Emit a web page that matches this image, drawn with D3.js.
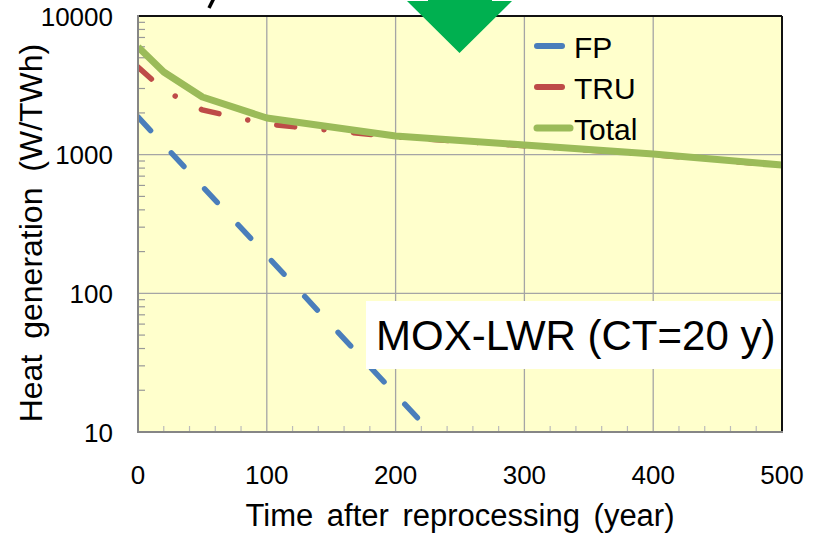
<!DOCTYPE html>
<html>
<head>
<meta charset="utf-8">
<script src="https://cdn.jsdelivr.net/npm/d3@7"></script>
<style>
  body { margin: 0; background: #fff; }
  text { font-family: Arial, "Liberation Sans", sans-serif; fill: #000; }
</style>
</head>
<body>
<svg id="chart" width="819" height="535"></svg>
<script>
// data
const years = [0, 20, 50, 100, 200, 300, 400, 500];
const fpValues = [1870, 1180, 590, 187, 18.7, 1.87, 0.187, 0.0187];
const truValues = [4290, 2920, 2100, 1660, 1345, 1160, 1000, 835];
const totalValues = [5980, 3945, 2606, 1837, 1365, 1175, 1011, 841];
const xTicks = [0, 100, 200, 300, 400, 500];
const yTicks = [10, 100, 1000, 10000];
const seriesNames = ["FP", "TRU", "Total"];
const noteText = "MOX-LWR (CT=20 y)";
const xTitle = "Time after reprocessing (year)";
const yTitle = "Heat generation (W/TWh)";

var margin = {top: 16, right: 37, bottom: 103, left: 138};
var width = 819, height = 535;
const COLORS = {FP: "#4A7EBB", TRU: "#BE4B48", Total: "#9BBB59"};

var svg = d3.select("#chart");

var x = d3.scaleLinear()
    .domain([0, 500])
    .range([margin.left, width - margin.right]);
var y = d3.scaleLog()
    .domain([10, 10000])
    .range([height - margin.bottom, margin.top]);

const x0 = x(0), x1 = x(500), yb = y(10), yt = y(10000);

// tail of a glyph from the title that sits above the picture
svg.append("path")
    .attr("d", "M213.5,-1 L209,8")
    .style("stroke", "#000")
    .style("stroke-width", 3.5);

// plot background
svg.append("rect")
    .attr("x", x0).attr("y", yt)
    .attr("width", x1 - x0).attr("height", yb - yt)
    .style("fill", "#FFFFCC");

// grid
svg.append("g").selectAll("line")
    .data(xTicks.slice(1, -1))
    .enter().append("line")
    .attr("x1", d => x(d)).attr("x2", d => x(d))
    .attr("y1", yt).attr("y2", yb)
    .style("stroke", "#A5A5A5").style("stroke-width", 1.3);
svg.append("g").selectAll("line")
    .data(yTicks.slice(1, -1))
    .enter().append("line")
    .attr("x1", x0).attr("x2", x1)
    .attr("y1", d => y(d)).attr("y2", d => y(d))
    .style("stroke", "#A5A5A5").style("stroke-width", 1.3);

// minor ticks (inside)
var minorY = [];
[10, 100, 1000].forEach(dec => { for (let k = 2; k <= 9; k++) minorY.push(dec * k); });
svg.append("g").selectAll("line")
    .data(minorY)
    .enter().append("line")
    .attr("x1", x0).attr("x2", x0 + 7)
    .attr("y1", d => y(d)).attr("y2", d => y(d))
    .style("stroke", "#999").style("stroke-width", 1.2);
var minorX = d3.range(20, 500, 20).filter(d => d % 100 != 0);
svg.append("g").selectAll("line")
    .data(minorX)
    .enter().append("line")
    .attr("x1", d => x(d)).attr("x2", d => x(d))
    .attr("y1", yb).attr("y2", yb - 6)
    .style("stroke", "#BBB").style("stroke-width", 1.2);

// series
svg.append("defs").append("clipPath").attr("id", "plot-clip")
    .append("rect")
    .attr("x", x0).attr("y", yt)
    .attr("width", x1 - x0).attr("height", yb - yt);

var line = d3.line()
    .x(d => x(d[0]))
    .y(d => y(d[1]));

var plot = svg.append("g").attr("clip-path", "url(#plot-clip)");

plot.append("path")
    .datum(years.map((t, i) => [t, fpValues[i]]))
    .attr("d", line)
    .style("fill", "none")
    .style("stroke", COLORS.FP)
    .style("stroke-width", 5.5)
    .style("stroke-linecap", "round")
    .style("stroke-dasharray", "18.5,30.5");

plot.append("path")
    .datum(years.map((t, i) => [t, truValues[i]]))
    .attr("d", line)
    .style("fill", "none")
    .style("stroke", COLORS.TRU)
    .style("stroke-width", 5.5)
    .style("stroke-linecap", "round")
    .style("stroke-dasharray", "18,29.5,0.01,29.5");

plot.append("path")
    .datum(years.map((t, i) => [t, totalValues[i]]))
    .attr("d", line)
    .style("fill", "none")
    .style("stroke", COLORS.Total)
    .style("stroke-width", 7)
    .style("stroke-linejoin", "round");

// borders: left/bottom gray axes, top/right black
svg.append("line").attr("x1", x0).attr("x2", x1).attr("y1", yt).attr("y2", yt)
    .style("stroke", "#111").style("stroke-width", 2);
svg.append("line").attr("x1", x1).attr("x2", x1).attr("y1", yt).attr("y2", yb)
    .style("stroke", "#111").style("stroke-width", 2);
svg.append("line").attr("x1", x0).attr("x2", x0).attr("y1", yt - 1).attr("y2", yb + 1)
    .style("stroke", "#868686").style("stroke-width", 2);
svg.append("line").attr("x1", x0).attr("x2", x1 + 1).attr("y1", yb).attr("y2", yb)
    .style("stroke", "#868686").style("stroke-width", 2);

// tick labels
svg.append("g").selectAll("text")
    .data(xTicks)
    .enter().append("text")
    .attr("x", d => x(d))
    .attr("y", 484)
    .attr("text-anchor", "middle")
    .style("font-size", "26px")
    .text(d => d);
svg.append("g").selectAll("text")
    .data(yTicks)
    .enter().append("text")
    .attr("x", 113)
    .attr("y", d => y(d) + 9.5)
    .attr("text-anchor", "end")
    .style("font-size", "26px")
    .text(d => d);

// axis titles
svg.append("text")
    .attr("x", 460)
    .attr("y", 526)
    .attr("text-anchor", "middle")
    .style("font-size", "31px")
    .style("word-spacing", "5px")
    .text(xTitle);
svg.append("g")
    .attr("transform", "translate(42," + ((yt + yb) / 2 + 9) + ")")
    .append("text")
    .attr("transform", "rotate(-90)")
    .attr("text-anchor", "middle")
    .style("font-size", "32px")
    .style("word-spacing", "7px")
    .text(yTitle);

// legend
const legendY = [46, 87, 128];
var legend = svg.append("g").selectAll("g")
    .data(seriesNames)
    .enter().append("g");
legend.append("line")
    .attr("x1", 537)
    .attr("x2", d => d == "Total" ? 570 : 562)
    .attr("y1", (d, i) => legendY[i]).attr("y2", (d, i) => legendY[i])
    .style("stroke", d => COLORS[d])
    .style("stroke-width", d => d == "Total" ? 7 : 6)
    .style("stroke-linecap", "round");
legend.append("text")
    .attr("x", 574)
    .attr("y", (d, i) => legendY[i] + 12)
    .style("font-size", "30px")
    .text(d => d);

// note box
svg.append("rect")
    .attr("x", 366).attr("y", 301)
    .attr("width", 415).attr("height", 68)
    .style("fill", "#fff");
svg.append("text")
    .attr("x", 376)
    .attr("y", 350)
    .style("font-size", "42px")
    .text(noteText);

// green arrow
svg.append("path")
    .attr("d", "M428,-20 L492,-20 L492,1 L512,1 L459.5,53 L407,1 L428,1 Z")
    .style("fill", "#00B050");
</script>
</body>
</html>
